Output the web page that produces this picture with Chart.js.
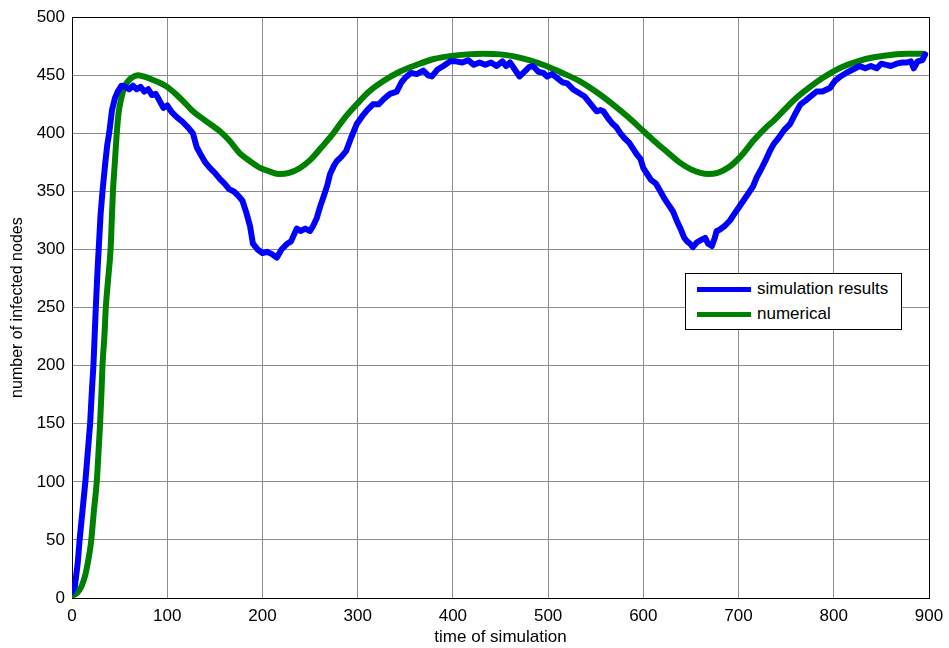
<!DOCTYPE html>
<html>
<head>
<meta charset="utf-8">
<script src="https://cdn.jsdelivr.net/npm/chart.js@4"></script>
<style>
  body { margin: 0; background: #fff; }
  #wrap { position: relative; width: 949px; height: 648px; }
  #legend {
    position: absolute; left: 685px; top: 273px; width: 217px; height: 57px;
    border: 1px solid #000; background: #fff; box-sizing: border-box;
    font-family: "Liberation Sans", Arial, sans-serif; font-size: 17px; color: #000;
  }
  #legend .row { position: absolute; left: 0; height: 20px; display: flex; align-items: center; }
  #legend .swatch { width: 54px; height: 5px; margin-left: 11px; margin-right: 6px; }
</style>
</head>
<body>
<div id="wrap">
  <canvas id="chart" width="949" height="648"></canvas>
  <div id="legend"></div>
</div>
<script>
// simulation run (noisy) - time and number of infected nodes
var simTime = [0,3,6,8,11,14,17,19,21,22.5,24,25,27,28,30,32,35,37,39,42,45,48,52,56,60,64,68,72,76,80,84,88,92,96,100,105,110,116,122,127,131,135,140,145,150,155,160,165,170,175,179,183,187,190,195,200,205,210,215,220,226,230,236,240,245,250,253,257,261,264,268,271,275,278,283,288,293,299,305,310,316,322,328,334,341,346,350,356,362,369,374,378,384,390,397,403,410,416,422,428,434,440,446,452,456,460,465,470,475,480,484,490,495,499,504,509,515,520,526,532,538,544,548,551,555,558,563,568,572,576,580,585,589,593,597,600,604,608,613,618,622,626,631,635,639,643,646,649,652,656,660,665,668,672,675,677,680,685,691,695,700,705,710,715,719,723,728,733,737,742,748,754,759,765,770,776,782,788,796,801,807,813,820,827,833,839,845,850,855,860,866,872,877,881,884,888,893,896];
var simCount = [5,10,30,50,75,100,130,150,180,200,230,250,285,300,330,350,375,390,400,420,430,436,441,440,438,441,438,440,436,438,433,434,428,422,424,418,414,410,405,400,388,382,375,370,366,361,357,352,350,346,342,332,320,305,300,297,298,296,293,300,305,307,318,316,318,316,320,327,338,345,355,365,372,376,380,385,396,408,415,420,425,425,430,434,436,444,448,452,451,454,450,449,455,458,462,462,461,463,459,461,459,461,458,462,458,461,455,449,453,457,458,453,452,449,451,448,444,443,438,435,432,426,422,419,420,419,413,408,405,400,396,392,387,382,378,370,365,360,357,350,344,339,333,325,318,310,307,305,302,306,308,310,305,303,310,316,317,320,325,330,336,342,348,354,362,368,376,385,391,396,403,408,416,425,428,432,436,436,439,445,449,452,455,458,456,458,456,460,459,458,460,461,461,462,456,462,463,468];

// numerical solution
var numTime = [0,3,6,10,14,17,20,23,26,28,29.5,31,32,34,35.5,38,40.5,42,43,45,47,49,52,55,59,63,69,75,85,92,100,110,120,127,140,155,165,176,187,197,208,218,228,239,250,262,274,286,299,312,327,344,362,380,397,415,432,450,463,480,498,515,533,550,568,584,600,612,625,638,650,660,668,678,690,702,716,730,737,750,760,772,789,807,825,842,860,877,894];
var numCount = [2,3,5,10,20,32,48,75,100,128,150,178,200,225,250,275,300,330,350,375,400,418,431,440,445,448,450,449,446,443.6,440,433,425,419,411,402,394,383,376,370.5,367,365,366,370,377,388,399.5,413,425,436,445,453,459,464,466.5,468,468.5,468,466.5,463,458,452,445,436,425,414,402,393,384,375,369,366,365,366,371,380,394,406,411,422,430,438,448,456.5,462,465.5,467.5,468.5,468.5];

var xTicks = [0,100,200,300,400,500,600,700,800,900];
var yTicks = [0,50,100,150,200,250,300,350,400,450,500];

function toPoints(xs, ys) {
  var pts = [];
  for (var i = 0; i < xs.length; i++) {
    pts.push({x: xs[i], y: ys[i]});
  }
  return pts;
}

// black box round the plot area (top and right sides)
var boxPlugin = {
  id: 'axesBox',
  beforeDatasetsDraw: function(chart) {
    var a = chart.chartArea, ctx = chart.ctx;
    ctx.save();
    ctx.strokeStyle = '#000';
    ctx.lineWidth = 1;
    ctx.beginPath();
    ctx.moveTo(Math.round(a.left) + 0.5, Math.round(a.top) + 0.5);
    ctx.lineTo(Math.round(a.right) + 0.5, Math.round(a.top) + 0.5);
    ctx.lineTo(Math.round(a.right) + 0.5, Math.round(a.bottom) + 0.5);
    ctx.stroke();
    ctx.restore();
  }
};

var family = '"Liberation Sans", Arial, sans-serif';
var font = { family: family, size: 17 };

var chart = new Chart(document.getElementById('chart'), {
  type: 'line',
  data: {
    datasets: [
      {
        label: 'simulation results',
        data: toPoints(simTime, simCount),
        borderColor: '#0000ff',
        borderWidth: 6,
        pointRadius: 0,
        tension: 0,
        borderJoinStyle: 'round',
        borderCapStyle: 'round'
      },
      {
        label: 'numerical',
        data: toPoints(numTime, numCount),
        borderColor: '#008000',
        borderWidth: 6,
        pointRadius: 0,
        cubicInterpolationMode: 'monotone',
        borderCapStyle: 'round'
      }
    ]
  },
  options: {
    responsive: false,
    animation: false,
    layout: { padding: { left: 0, top: 16, right: 20, bottom: 0 } },
    plugins: {
      legend: { display: false },
      tooltip: { enabled: false }
    },
    scales: {
      x: {
        type: 'linear',
        min: 0,
        max: 900,
        afterBuildTicks: function(s) { s.ticks = xTicks.map(function(v) { return {value: v}; }); },
        afterFit: function(s) { s.height = 50; s.paddingRight = 0; s.paddingLeft = 0; },
        ticks: { color: '#000', font: font, padding: 8, maxRotation: 0 },
        grid: { color: '#8c8c8c', lineWidth: 1, drawTicks: false },
        border: { color: '#000', width: 1 },
        title: { display: true, text: 'time of simulation', color: '#000', font: font, padding: { top: 0, bottom: 0 } }
      },
      y: {
        min: 0,
        max: 500,
        afterBuildTicks: function(s) { s.ticks = yTicks.map(function(v) { return {value: v}; }); },
        afterFit: function(s) { s.width = 72; },
        ticks: { color: '#000', font: font, padding: 7 },
        grid: { color: '#8c8c8c', lineWidth: 1, drawTicks: false },
        border: { color: '#000', width: 1 },
        title: { display: true, text: 'number of infected nodes', color: '#000', font: { family: family, size: 16 }, padding: { top: 8, bottom: 0 } }
      }
    }
  },
  plugins: [boxPlugin]
});

// legend box built from the datasets
var legend = document.getElementById('legend');
chart.data.datasets.forEach(function(ds, i) {
  var row = document.createElement('div');
  row.className = 'row';
  row.style.top = (5 + i * 25) + 'px';
  var sw = document.createElement('span');
  sw.className = 'swatch';
  sw.style.background = ds.borderColor;
  var txt = document.createElement('span');
  txt.textContent = ds.label;
  row.appendChild(sw);
  row.appendChild(txt);
  legend.appendChild(row);
});
</script>
</body>
</html>
